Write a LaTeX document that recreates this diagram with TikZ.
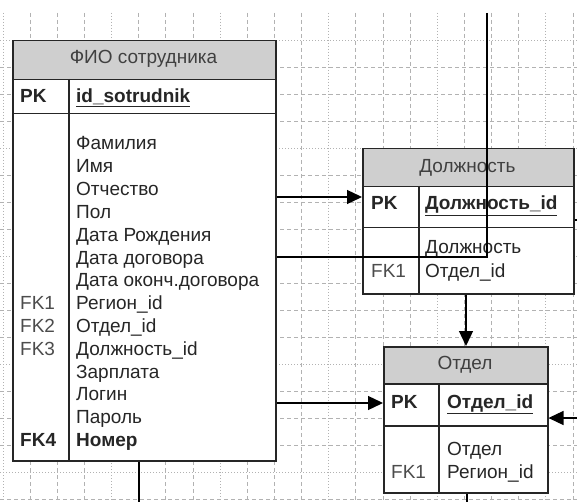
\documentclass[tikz,border=0pt]{standalone}
\usepackage{fontspec}
\setmainfont{Liberation Sans}
\usetikzlibrary{arrows.meta}

\begin{document}
\begin{tikzpicture}[x=1pt,y=-1pt,
  gridminor/.style={draw=black!30, line width=0.7pt, dash pattern=on 4pt off 3pt},
  gridmajor/.style={draw=black!30, line width=0.7pt, dash pattern=on 1pt off 2pt},
  tblhead/.style={draw=black!85, line width=1.5pt, fill=black!19, inner sep=0pt, anchor=north west},
  tblcell/.style={draw=black!85, line width=1.5pt, fill=white, inner sep=0pt, anchor=north west},
  coltext/.style={anchor=base west, inner sep=0pt, text=black!85, font=\fontsize{19}{21}\selectfont},
  headtext/.style={inner sep=0pt, text=black!75, font=\fontsize{19}{21}\selectfont},
  keytext/.style={anchor=base west, inner sep=0pt, text=black!85, font=\fontsize{19}{21}\selectfont\bfseries},
  fktext/.style={anchor=base west, inner sep=0pt, text=black!70, font=\fontsize{19}{21}\selectfont},
  link/.style={draw=black, line width=1.3pt},
  arrowlink/.style={link, -{Triangle[length=15pt,width=14pt]}}
]
\useasboundingbox (0,0) rectangle (577,502);
\fill[white] (0,0) rectangle (577,502);

% background grid
\foreach \k in {0,...,21}{
  \pgfmathsetmacro{\gx}{3+27.14*\k}
  \pgfmathtruncatemacro{\km}{mod(\k,4)}
  \ifnum\km=0
    \draw[gridmajor] (\gx,13) -- (\gx,502);
  \else
    \draw[gridminor] (\gx,13) -- (\gx,502);
  \fi
}
\foreach \k in {0,...,17}{
  \pgfmathsetmacro{\gy}{40+27*\k}
  \pgfmathtruncatemacro{\km}{mod(\k,4)}
  \ifnum\km=0
    \draw[gridmajor] (0,\gy) -- (577,\gy);
  \else
    \draw[gridminor] (0,\gy) -- (577,\gy);
  \fi
}

% ---- table: ФИО сотрудника ----
\node[tblhead, minimum width=263pt, minimum height=39pt] (emphead) at (12,40) {};
\node[tblcell, minimum width=263pt, minimum height=34pt] (emppk) at (12,79) {};
\node[tblcell, minimum width=263pt, minimum height=347pt] (empbody) at (12,113) {};
\draw[draw=black!85, line width=1.5pt] (69,79) -- (69,460);
\node[headtext] (empname) at (143.5,59) {ФИО сотрудника};
\node[keytext] (emppklbl) at (20,102.5) {PK};
\node[keytext] (emppkfld) at (76,102.5) {\underline{id\_sotrudnik}};
\foreach \t [count=\i from 0] in {Фамилия,Имя,Отчество,Пол,Дата Рождения,Дата договора,Дата оконч.договора,Регион\_id,Отдел\_id,Должность\_id,Зарплата,Логин,Пароль}{
  \node[coltext] (empf\i) at (76,{150+22.8*\i}) {\t};
}
\node[fktext] (empfk1) at (20,{150+22.8*7}) {FK1};
\node[fktext] (empfk2) at (20,{150+22.8*8}) {FK2};
\node[fktext] (empfk3) at (20,{150+22.8*9}) {FK3};
\node[keytext] (empfk4) at (20,{150+22.8*13}) {FK4};
\node[keytext] (empf13) at (76,{150+22.8*13}) {Номер};

% ---- table: Должность ----
\node[tblhead, minimum width=211pt, minimum height=38pt] (poshead) at (362,148) {};
\node[tblcell, minimum width=211pt, minimum height=41pt] (pospk) at (362,186) {};
\node[tblcell, minimum width=211pt, minimum height=66pt] (posbody) at (362,227) {};
\draw[draw=black!85, line width=1.5pt] (419,186) -- (419,293);
\node[headtext] (posname) at (467.5,168) {Должность};
\node[keytext] (pospklbl) at (371,210) {PK};
\node[keytext] (pospkfld) at (425,210) {\underline{Должность\_id}};
\node[coltext] (posf0) at (425,254) {Должность};
\node[fktext] (posfk1) at (371,277.5) {FK1};
\node[coltext] (posf1) at (425,277.5) {Отдел\_id};

% ---- table: Отдел ----
\node[tblhead, minimum width=164pt, minimum height=37pt] (dephead) at (383,346) {};
\node[tblcell, minimum width=164pt, minimum height=42pt] (deppk) at (383,383) {};
\node[tblcell, minimum width=164pt, minimum height=67pt] (depbody) at (383,425) {};
\draw[draw=black!85, line width=1.5pt] (439,383) -- (439,492);
\node[headtext] (depname) at (465,364.5) {Отдел};
\node[keytext] (deppklbl) at (391,408.5) {PK};
\node[keytext] (deppkfld) at (447,408.5) {\underline{Отдел\_id}};
\node[coltext] (depf0) at (447,455) {Отдел};
\node[fktext] (depfk1) at (391,478.5) {FK1};
\node[coltext] (depf1) at (447,478.5) {Регион\_id};

% ---- connectors ----
\coordinate (topin) at (487,13);
\coordinate (bend) at (487,257);
\coordinate (bottomA) at (139,502);
\coordinate (bottomB) at (467,502);
\coordinate (rightin) at (577,418);
\coordinate (rightout) at (577,220);

\draw[link] (topin) -- (bend) -- (empbody.east |- bend);
\draw[arrowlink] (empbody.east |- 0,197) -- (poshead.west |- 0,197);
\draw[arrowlink] (posbody.south -| 466,0) -- (dephead.north -| 466,0);
\draw[arrowlink] (empbody.east |- 0,403) -- (deppk.west |- 0,403);
\draw[arrowlink] (rightin) -- (depbody.east |- rightin);
\draw[link] (empbody.south -| bottomA) -- (bottomA);
\draw[link] (depbody.south -| bottomB) -- (bottomB);
\draw[link] (pospk.east |- rightout) -- (rightout);
\end{tikzpicture}
\end{document}
